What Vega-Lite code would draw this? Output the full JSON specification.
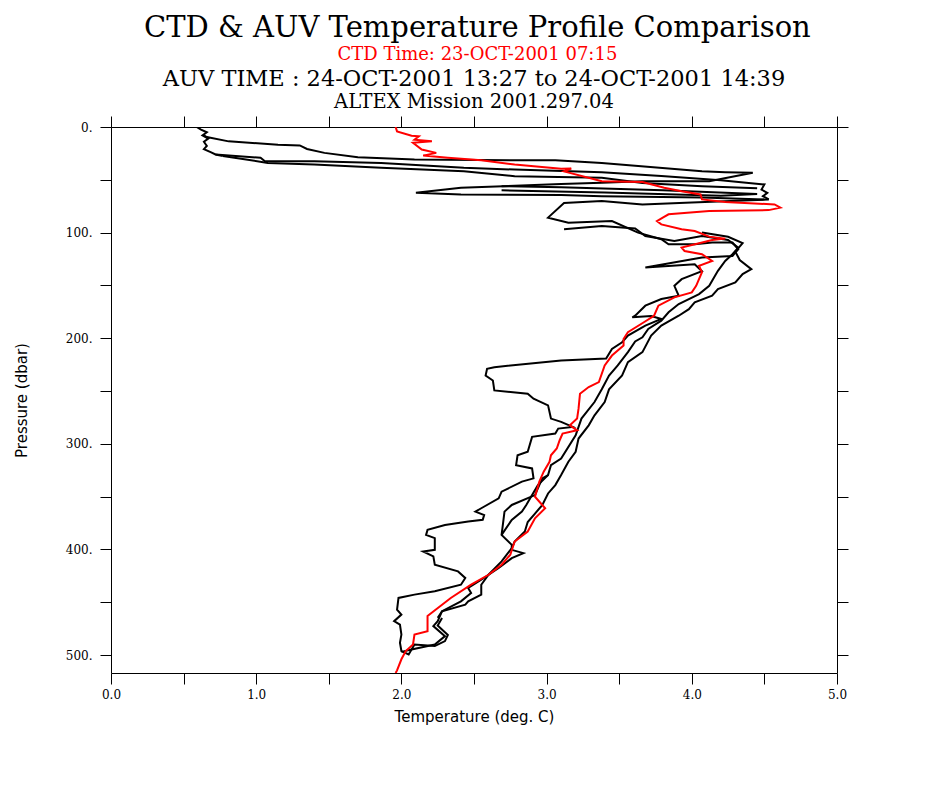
{
  "$schema": "https://vega.github.io/schema/vega-lite/v6.json",
  "background": "white",
  "padding": {"left": 14, "top": 13, "right": 10, "bottom": 10},
  "title": {
    "text": "CTD & AUV Temperature Profile Comparison",
    "subtitle": "CTD Time: 23-OCT-2001 07:15",
    "font": "DejaVu Serif", "fontSize": 29, "fontWeight": "normal", "color": "black",
    "subtitleFont": "DejaVu Serif", "subtitleFontSize": 18, "subtitleColor": "red",
    "subtitlePadding": 3, "anchor": "middle", "offset": 4, "dx": 46
  },
  "datasets": {
    "ctd": [
      {"i":0,"t":1.96,"p":0},{"i":1,"t":1.97,"p":4.2},{"i":2,"t":2.07,"p":8.2},{"i":3,"t":2.12,"p":8.8},{"i":4,"t":2.09,"p":12},
      {"i":5,"t":2.21,"p":13.6},{"i":6,"t":2.08,"p":15},{"i":7,"t":2.14,"p":21.4},{"i":8,"t":2.24,"p":24.5},{"i":9,"t":2.15,"p":27.1},
      {"i":10,"t":2.32,"p":29.2},{"i":11,"t":2.55,"p":31.5},{"i":12,"t":2.78,"p":35.6},{"i":13,"t":3.10,"p":39.6},{"i":14,"t":3.17,"p":39.3},
      {"i":15,"t":3.12,"p":42},{"i":16,"t":3.38,"p":51.3},{"i":17,"t":3.66,"p":52},{"i":18,"t":3.81,"p":57.5},{"i":19,"t":3.93,"p":60.8},
      {"i":20,"t":4.06,"p":63.9},{"i":21,"t":4.07,"p":68.6},{"i":22,"t":4.23,"p":71.1},{"i":23,"t":4.57,"p":73.3},{"i":24,"t":4.61,"p":76.4},
      {"i":25,"t":4.53,"p":78.7},{"i":26,"t":4.12,"p":79.6},{"i":27,"t":3.84,"p":82.7},{"i":28,"t":3.80,"p":85.8},{"i":29,"t":3.76,"p":89.1},
      {"i":30,"t":3.79,"p":92.2},{"i":31,"t":3.93,"p":96.9},{"i":32,"t":4.02,"p":98.5},{"i":33,"t":4.12,"p":103.8},{"i":34,"t":4.23,"p":105.7},
      {"i":35,"t":4.14,"p":107},{"i":36,"t":3.93,"p":114.2},{"i":37,"t":3.95,"p":117.4},{"i":38,"t":4.07,"p":120.5},{"i":39,"t":4.14,"p":126.8},
      {"i":40,"t":4.05,"p":131.5},{"i":41,"t":4.07,"p":137.5},{"i":42,"t":4.03,"p":150.4},{"i":43,"t":4.00,"p":156.6},{"i":44,"t":3.88,"p":161.3},
      {"i":45,"t":3.77,"p":169.2},{"i":46,"t":3.74,"p":178.7},{"i":47,"t":3.67,"p":184.9},{"i":48,"t":3.56,"p":194.3},{"i":49,"t":3.53,"p":200.7},
      {"i":50,"t":3.53,"p":207},{"i":51,"t":3.45,"p":216.4},{"i":52,"t":3.40,"p":225.8},{"i":53,"t":3.36,"p":241.5},{"i":54,"t":3.29,"p":246.2},
      {"i":55,"t":3.23,"p":252.5},{"i":56,"t":3.22,"p":266.7},{"i":57,"t":3.21,"p":276.1},{"i":58,"t":3.16,"p":282.5},{"i":59,"t":3.21,"p":287.2},
      {"i":60,"t":3.11,"p":290.3},{"i":61,"t":3.09,"p":296.6},{"i":62,"t":3.07,"p":304.4},{"i":63,"t":3.03,"p":310.8},{"i":64,"t":3.02,"p":317},
      {"i":65,"t":2.98,"p":326.4},{"i":66,"t":2.95,"p":335.8},{"i":67,"t":2.92,"p":350},{"i":68,"t":2.99,"p":361},{"i":69,"t":2.92,"p":370.5},
      {"i":70,"t":2.87,"p":383},{"i":71,"t":2.78,"p":392.5},{"i":72,"t":2.75,"p":405},{"i":73,"t":2.69,"p":414.5},{"i":74,"t":2.60,"p":424},
      {"i":75,"t":2.48,"p":433.4},{"i":76,"t":2.34,"p":446},{"i":77,"t":2.18,"p":463},{"i":78,"t":2.18,"p":477.4},{"i":79,"t":2.09,"p":480.6},
      {"i":80,"t":2.08,"p":490},{"i":81,"t":2.03,"p":496.2},{"i":82,"t":2.00,"p":504},{"i":83,"t":1.97,"p":514.5},{"i":84,"t":1.96,"p":517}
    ],
    "auv": [
      {"s":"a","i":0,"t":0.59,"p":0},{"s":"a","i":1,"t":0.62,"p":2.5},{"s":"a","i":2,"t":0.66,"p":5},{"s":"a","i":3,"t":0.63,"p":8},
      {"s":"a","i":4,"t":0.67,"p":11},{"s":"a","i":5,"t":0.64,"p":14},{"s":"a","i":6,"t":0.66,"p":18},{"s":"a","i":7,"t":0.64,"p":21},
      {"s":"a","i":8,"t":0.69,"p":24},{"s":"a","i":9,"t":0.72,"p":26},{"s":"a","i":10,"t":0.77,"p":27.5},

      {"s":"b","i":0,"t":0.64,"p":8},{"s":"b","i":1,"t":0.66,"p":9.5},{"s":"b","i":2,"t":0.81,"p":13.6},{"s":"b","i":3,"t":1.15,"p":16.7},
      {"s":"b","i":4,"t":1.30,"p":17.4},{"s":"b","i":5,"t":1.35,"p":20.8},{"s":"b","i":6,"t":1.47,"p":24.5},{"s":"b","i":7,"t":1.70,"p":28.7},
      {"s":"b","i":8,"t":2.09,"p":30.8},{"s":"b","i":9,"t":2.78,"p":31.5},{"s":"b","i":10,"t":3.06,"p":31.5},{"s":"b","i":11,"t":3.38,"p":34},
      {"s":"b","i":12,"t":4.07,"p":41.9},{"s":"b","i":13,"t":4.23,"p":42.8},{"s":"b","i":14,"t":4.42,"p":43.4},{"s":"b","i":15,"t":4.12,"p":51.3},
      {"s":"b","i":16,"t":3.66,"p":51.3},{"s":"b","i":17,"t":3.38,"p":52.8},{"s":"b","i":18,"t":3.10,"p":54},{"s":"b","i":19,"t":2.41,"p":57.5},
      {"s":"b","i":20,"t":2.10,"p":62.3},{"s":"b","i":21,"t":2.41,"p":63.9},{"s":"b","i":22,"t":3.10,"p":64.5},{"s":"b","i":23,"t":3.38,"p":65.5},
      {"s":"b","i":24,"t":4.07,"p":66.7},{"s":"b","i":25,"t":4.50,"p":68.6},

      {"s":"c","i":0,"t":0.72,"p":26},{"s":"c","i":1,"t":1.03,"p":29.2},{"s":"c","i":2,"t":1.06,"p":32.5},{"s":"c","i":3,"t":1.40,"p":32.5},
      {"s":"c","i":4,"t":1.86,"p":34},{"s":"c","i":5,"t":2.43,"p":38.7},{"s":"c","i":6,"t":2.78,"p":40.3},{"s":"c","i":7,"t":3.38,"p":42.8},
      {"s":"c","i":8,"t":3.79,"p":46.5},{"s":"c","i":9,"t":4.20,"p":50.5},{"s":"c","i":10,"t":4.50,"p":54.4},{"s":"c","i":11,"t":4.48,"p":59.2},
      {"s":"c","i":12,"t":4.52,"p":62.3},{"s":"c","i":13,"t":4.49,"p":65.5},{"s":"c","i":14,"t":4.53,"p":68.6},

      {"s":"d","i":0,"t":0.77,"p":27.5},{"s":"d","i":1,"t":0.85,"p":29.2},{"s":"d","i":2,"t":1.08,"p":34},{"s":"d","i":3,"t":1.40,"p":35.6},
      {"s":"d","i":4,"t":1.86,"p":38.7},{"s":"d","i":5,"t":2.43,"p":41.9},{"s":"d","i":6,"t":2.78,"p":46.6},{"s":"d","i":7,"t":3.38,"p":48.1},
      {"s":"d","i":8,"t":3.66,"p":53},{"s":"d","i":9,"t":4.07,"p":56},{"s":"d","i":10,"t":4.45,"p":58},

      {"s":"h","i":0,"t":2.69,"p":56},{"s":"h","i":1,"t":3.10,"p":57},{"s":"h","i":2,"t":3.80,"p":60},{"s":"h","i":3,"t":4.45,"p":63.5},
      {"s":"h","i":4,"t":4.20,"p":65},{"s":"h","i":5,"t":3.40,"p":62},{"s":"h","i":6,"t":2.69,"p":60},

      {"s":"e","i":0,"t":4.53,"p":68.6},{"s":"e","i":1,"t":4.00,"p":71.5},{"s":"e","i":2,"t":3.66,"p":73.3},{"s":"e","i":3,"t":3.38,"p":70},
      {"s":"e","i":4,"t":3.12,"p":72},{"s":"e","i":5,"t":3.01,"p":85.8},{"s":"e","i":6,"t":3.15,"p":90.6},{"s":"e","i":7,"t":3.45,"p":89.1},
      {"s":"e","i":8,"t":3.63,"p":100},{"s":"e","i":9,"t":3.79,"p":106.3},{"s":"e","i":10,"t":3.84,"p":111},{"s":"e","i":11,"t":4.02,"p":111},
      {"s":"e","i":12,"t":4.14,"p":109.4},{"s":"e","i":13,"t":4.28,"p":109.4},{"s":"e","i":14,"t":4.32,"p":115.8},{"s":"e","i":15,"t":4.28,"p":122.1},
      {"s":"e","i":16,"t":4.07,"p":123.6},{"s":"e","i":17,"t":3.68,"p":133},{"s":"e","i":18,"t":4.02,"p":129.9},{"s":"e","i":19,"t":4.07,"p":136.5},
      {"s":"e","i":20,"t":3.93,"p":144.1},{"s":"e","i":21,"t":3.88,"p":150.4},{"s":"e","i":22,"t":3.91,"p":159.8},{"s":"e","i":23,"t":3.79,"p":162.9},
      {"s":"e","i":24,"t":3.68,"p":169.2},{"s":"e","i":25,"t":3.61,"p":178.7},{"s":"e","i":26,"t":3.59,"p":180.2},{"s":"e","i":27,"t":3.72,"p":179},
      {"s":"e","i":28,"t":3.79,"p":181.8},{"s":"e","i":29,"t":3.68,"p":188.1},{"s":"e","i":30,"t":3.56,"p":197.5},{"s":"e","i":31,"t":3.52,"p":203.8},
      {"s":"e","i":32,"t":3.45,"p":210.1},{"s":"e","i":33,"t":3.41,"p":219.2},{"s":"e","i":34,"t":3.10,"p":221.1},{"s":"e","i":35,"t":2.64,"p":227.4},
      {"s":"e","i":36,"t":2.59,"p":229},{"s":"e","i":37,"t":2.58,"p":235.3},{"s":"e","i":38,"t":2.63,"p":240},{"s":"e","i":39,"t":2.64,"p":249.4},
      {"s":"e","i":40,"t":2.87,"p":252.5},{"s":"e","i":41,"t":2.91,"p":257.3},{"s":"e","i":42,"t":3.01,"p":263.6},{"s":"e","i":43,"t":3.03,"p":276.1},
      {"s":"e","i":44,"t":3.10,"p":279.2},{"s":"e","i":45,"t":3.18,"p":284},{"s":"e","i":46,"t":3.08,"p":285.6},{"s":"e","i":47,"t":3.06,"p":290.3},
      {"s":"e","i":48,"t":2.90,"p":293.4},{"s":"e","i":49,"t":2.87,"p":307.5},{"s":"e","i":50,"t":2.80,"p":310.8},{"s":"e","i":51,"t":2.79,"p":320.2},
      {"s":"e","i":52,"t":2.90,"p":323.3},{"s":"e","i":53,"t":2.91,"p":332.7},{"s":"e","i":54,"t":2.83,"p":335.8},{"s":"e","i":55,"t":2.69,"p":345.3},
      {"s":"e","i":56,"t":2.67,"p":351.6},{"s":"e","i":57,"t":2.55,"p":361},{"s":"e","i":58,"t":2.51,"p":364.2},{"s":"e","i":59,"t":2.57,"p":367.4},
      {"s":"e","i":60,"t":2.56,"p":372},{"s":"e","i":61,"t":2.46,"p":373.6},{"s":"e","i":62,"t":2.30,"p":376.8},{"s":"e","i":63,"t":2.18,"p":381.5},
      {"s":"e","i":64,"t":2.17,"p":386.2},{"s":"e","i":65,"t":2.23,"p":389.3},{"s":"e","i":66,"t":2.23,"p":400.4},{"s":"e","i":67,"t":2.15,"p":401.9},
      {"s":"e","i":68,"t":2.22,"p":406.6},{"s":"e","i":69,"t":2.23,"p":414.5},{"s":"e","i":70,"t":2.39,"p":420.8},{"s":"e","i":71,"t":2.44,"p":427},
      {"s":"e","i":72,"t":2.41,"p":433.4},{"s":"e","i":73,"t":2.23,"p":439.6},{"s":"e","i":74,"t":2.09,"p":442.8},{"s":"e","i":75,"t":1.98,"p":445.9},
      {"s":"e","i":76,"t":1.97,"p":457},{"s":"e","i":77,"t":2.00,"p":461.7},{"s":"e","i":78,"t":1.95,"p":467.9},{"s":"e","i":79,"t":1.99,"p":471.1},
      {"s":"e","i":80,"t":2.00,"p":480.6},{"s":"e","i":81,"t":1.99,"p":488.4},{"s":"e","i":82,"t":2.00,"p":496.2},{"s":"e","i":83,"t":2.05,"p":499.4},
      {"s":"e","i":84,"t":2.09,"p":490},{"s":"e","i":85,"t":2.23,"p":491.5},{"s":"e","i":86,"t":2.30,"p":486.8},{"s":"e","i":87,"t":2.32,"p":481},
      {"s":"e","i":88,"t":2.25,"p":472},{"s":"e","i":89,"t":2.28,"p":465},

      {"s":"f","i":0,"t":4.07,"p":100},{"s":"f","i":1,"t":4.25,"p":104},{"s":"f","i":2,"t":4.35,"p":110},{"s":"f","i":3,"t":4.30,"p":118},
      {"s":"f","i":4,"t":4.33,"p":126},{"s":"f","i":5,"t":4.41,"p":134.6},{"s":"f","i":6,"t":4.35,"p":139.2},{"s":"f","i":7,"t":4.30,"p":147.2},
      {"s":"f","i":8,"t":4.18,"p":153.5},{"s":"f","i":9,"t":4.14,"p":159.8},{"s":"f","i":10,"t":4.02,"p":166},{"s":"f","i":11,"t":3.98,"p":172.5},
      {"s":"f","i":12,"t":3.91,"p":178.7},{"s":"f","i":13,"t":3.79,"p":188.1},{"s":"f","i":14,"t":3.72,"p":197.5},{"s":"f","i":15,"t":3.66,"p":213.2},
      {"s":"f","i":16,"t":3.56,"p":222.6},{"s":"f","i":17,"t":3.52,"p":235.3},{"s":"f","i":18,"t":3.43,"p":248.4},{"s":"f","i":19,"t":3.40,"p":260.4},
      {"s":"f","i":20,"t":3.33,"p":273},{"s":"f","i":21,"t":3.29,"p":282.5},{"s":"f","i":22,"t":3.22,"p":295},{"s":"f","i":23,"t":3.20,"p":307.5},
      {"s":"f","i":24,"t":3.15,"p":317},{"s":"f","i":25,"t":3.10,"p":329.6},{"s":"f","i":26,"t":3.06,"p":339.1},{"s":"f","i":27,"t":3.01,"p":347},
      {"s":"f","i":28,"t":2.97,"p":358},{"s":"f","i":29,"t":2.92,"p":366},{"s":"f","i":30,"t":2.87,"p":374},{"s":"f","i":31,"t":2.85,"p":383},
      {"s":"f","i":32,"t":2.78,"p":392.5},{"s":"f","i":33,"t":2.76,"p":398.8},{"s":"f","i":34,"t":2.69,"p":411.3},{"s":"f","i":35,"t":2.60,"p":423.9},
      {"s":"f","i":36,"t":2.55,"p":433.4},{"s":"f","i":37,"t":2.55,"p":442.8},{"s":"f","i":38,"t":2.46,"p":449.1},{"s":"f","i":39,"t":2.44,"p":452.3},
      {"s":"f","i":40,"t":2.28,"p":458.5},{"s":"f","i":41,"t":2.25,"p":467.9},{"s":"f","i":42,"t":2.22,"p":472.6},{"s":"f","i":43,"t":2.30,"p":482.1},
      {"s":"f","i":44,"t":2.23,"p":490},{"s":"f","i":45,"t":2.07,"p":494.7},{"s":"f","i":46,"t":2.00,"p":497},

      {"s":"g","i":0,"t":3.12,"p":96.9},{"s":"g","i":1,"t":3.38,"p":93.8},{"s":"g","i":2,"t":3.61,"p":96},{"s":"g","i":3,"t":3.68,"p":103.2},
      {"s":"g","i":4,"t":3.81,"p":106.3},{"s":"g","i":5,"t":3.88,"p":108},{"s":"g","i":6,"t":4.07,"p":103.2},{"s":"g","i":7,"t":4.25,"p":107},
      {"s":"g","i":8,"t":4.32,"p":114.2},{"s":"g","i":9,"t":4.28,"p":120.5},{"s":"g","i":10,"t":4.23,"p":126.8},{"s":"g","i":11,"t":4.18,"p":136.2},
      {"s":"g","i":12,"t":4.16,"p":140.9},{"s":"g","i":13,"t":4.12,"p":150.4},{"s":"g","i":14,"t":4.05,"p":158.2},{"s":"g","i":15,"t":3.91,"p":167.6},
      {"s":"g","i":16,"t":3.84,"p":175.5},{"s":"g","i":17,"t":3.79,"p":183.4},{"s":"g","i":18,"t":3.70,"p":191.2},{"s":"g","i":19,"t":3.66,"p":199.1},
      {"s":"g","i":20,"t":3.61,"p":203},{"s":"g","i":21,"t":3.56,"p":213.2},{"s":"g","i":22,"t":3.49,"p":225.8},{"s":"g","i":23,"t":3.43,"p":235.3},
      {"s":"g","i":24,"t":3.38,"p":248.4},{"s":"g","i":25,"t":3.33,"p":260.4},{"s":"g","i":26,"t":3.24,"p":276.1},{"s":"g","i":27,"t":3.20,"p":291.9},
      {"s":"g","i":28,"t":3.10,"p":313.9},{"s":"g","i":29,"t":3.03,"p":320.2},{"s":"g","i":30,"t":3.01,"p":329.6},{"s":"g","i":31,"t":2.97,"p":332.7},
      {"s":"g","i":32,"t":2.92,"p":348.5},{"s":"g","i":33,"t":2.76,"p":357.9},{"s":"g","i":34,"t":2.71,"p":364.2},{"s":"g","i":35,"t":2.69,"p":386.2},
      {"s":"g","i":36,"t":2.76,"p":395.7},{"s":"g","i":37,"t":2.76,"p":400.4},{"s":"g","i":38,"t":2.84,"p":403.5},{"s":"g","i":39,"t":2.76,"p":408.2},
      {"s":"g","i":40,"t":2.67,"p":417.6},{"s":"g","i":41,"t":2.55,"p":428.7},{"s":"g","i":42,"t":2.46,"p":436.5},{"s":"g","i":43,"t":2.48,"p":441.2},
      {"s":"g","i":44,"t":2.41,"p":449.1},{"s":"g","i":45,"t":2.28,"p":458.5},{"s":"g","i":46,"t":2.25,"p":464.8},

      {"s":"k","i":0,"t":3.01,"p":329.6},{"s":"k","i":1,"t":2.94,"p":339.1},{"s":"k","i":2,"t":2.90,"p":348.5},{"s":"k","i":3,"t":2.86,"p":357.9},
      {"s":"k","i":4,"t":2.83,"p":364.2},{"s":"k","i":5,"t":2.76,"p":372},{"s":"k","i":6,"t":2.69,"p":386.2}
    ]
  },
  "vconcat": [
    {
      "title": {
        "text": "AUV TIME : 24-OCT-2001 13:27 to 24-OCT-2001 14:39",
        "subtitle": "ALTEX Mission 2001.297.04",
        "font": "DejaVu Serif", "fontSize": 22.5, "fontWeight": "normal", "color": "black",
        "subtitleFont": "DejaVu Serif", "subtitleFontSize": 19.5, "subtitleColor": "black",
        "subtitlePadding": 3, "anchor": "middle", "frame": "group", "offset": 4
      },
      "width": 726,
      "height": 546,
      "resolve": {"axis": {"x": "independent", "y": "independent"}},
      "layer": [
        {
          "data": {"name": "auv"},
          "mark": {"type": "line", "color": "black", "strokeWidth": 2, "clip": true},
          "encoding": {
            "x": {
              "field": "t", "type": "quantitative",
              "scale": {"domain": [0, 5], "nice": false, "zero": false},
              "axis": {
                "orient": "bottom", "title": "Temperature (deg. C)",
                "values": [0, 0.5, 1, 1.5, 2, 2.5, 3, 3.5, 4, 4.5, 5],
                "labelExpr": "datum.value % 1 == 0 ? format(datum.value, '.1f') : ''",
                "labelPadding": 5, "titlePadding": 9
              }
            },
            "y": {
              "field": "p", "type": "quantitative",
              "scale": {"domain": [0, 517], "reverse": true, "nice": false, "zero": false},
              "axis": {
                "orient": "left", "title": "Pressure (dbar)",
                "values": [0, 50, 100, 150, 200, 250, 300, 350, 400, 450, 500],
                "labelExpr": "datum.value % 100 == 0 ? format(datum.value, 'd') + '.' : ''",
                "labelPadding": 8, "titlePadding": 36
              }
            },
            "detail": {"field": "s"},
            "order": {"field": "i", "type": "quantitative"}
          }
        },
        {
          "data": {"name": "ctd"},
          "mark": {"type": "line", "color": "red", "strokeWidth": 2, "clip": true},
          "encoding": {
            "x": {
              "field": "t", "type": "quantitative",
              "axis": {
                "orient": "top", "title": null, "labels": false,
                "values": [0, 0.5, 1, 1.5, 2, 2.5, 3, 3.5, 4, 4.5, 5]
              }
            },
            "y": {
              "field": "p", "type": "quantitative",
              "axis": {
                "orient": "right", "title": null, "labels": false,
                "values": [0, 50, 100, 150, 200, 250, 300, 350, 400, 450, 500]
              }
            },
            "order": {"field": "i", "type": "quantitative"}
          }
        }
      ]
    }
  ],
  "config": {
    "view": {"stroke": null},
    "axis": {
      "grid": false,
      "domainColor": "black",
      "tickColor": "black",
      "tickSize": 11,
      "labelColor": "black",
      "labelFont": "DejaVu Serif",
      "labelFontSize": 12,
      "labelFlush": false,
      "labelOverlap": false,
      "titleColor": "black",
      "titleFont": "DejaVu Sans",
      "titleFontSize": 15,
      "titleFontWeight": "normal"
    }
  }
}
